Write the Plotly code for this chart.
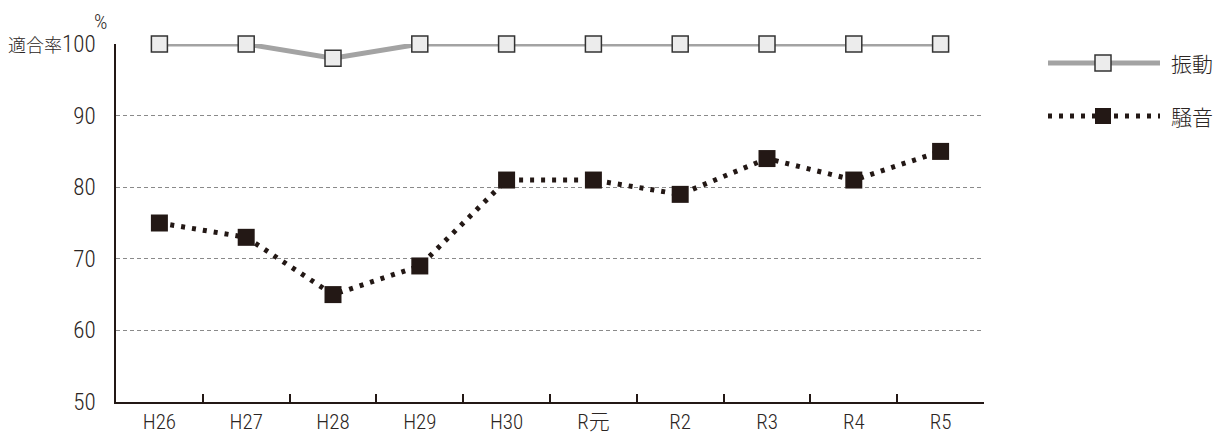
import plotly.graph_objects as go

categories = ["H26", "H27", "H28", "H29", "H30", "R元", "R2", "R3", "R4", "R5"]
vibration = [100, 100, 98, 100, 100, 100, 100, 100, 100, 100]
noise = [75, 73, 65, 69, 81, 81, 79, 84, 81, 85]
series_names = ["振動", "騒音"]
y_ticks = [50, 60, 70, 80, 90, 100]
y_ticktext = ["50", "60", "70", "80", "90", "<span style='font-size:18px'>適合率</span>100"]

FONT = "Roboto Condensed, Noto Sans CJK JP"
CJK = "Noto Sans CJK JP"
W, H = 1225, 434
L, R, T, B = 116, 241, 44, 32
PW, PH = W - L - R, H - T - B
TXT = "#2b2523"

fig = go.Figure()
fig.add_trace(go.Scatter(
    x=categories, y=vibration, name=series_names[0], mode="lines+markers",
    line=dict(color="#a3a3a3", width=5),
    marker=dict(symbol="square", size=16, color="#ececec", line=dict(color="#333333", width=1.5)),
    cliponaxis=False, showlegend=False))
fig.add_trace(go.Scatter(
    x=categories, y=noise, name=series_names[1], mode="lines+markers",
    line=dict(color="#231815", width=5, dash="4px,7px"),
    marker=dict(symbol="square", size=17, color="#231815", line=dict(width=0)),
    cliponaxis=False, showlegend=False))

def px_x(p):
    return (p - L) / PW

def px_y(p):
    return (H - B - p) / PH

shapes = []
ann = []
leg_y = [63, 116]
styles = [dict(color="#a3a3a3", width=5), dict(color="#231815", width=5, dash="4px,7px")]
fills = [("#ececec", "#333333", 1.5), ("#231815", "#231815", 0)]
for i in range(2):
    yy = px_y(leg_y[i])
    shapes.append(dict(type="line", xref="paper", yref="paper", x0=px_x(1048), x1=px_x(1160),
                       y0=yy, y1=yy, line=styles[i]))
    fc, lc, lw = fills[i]
    shapes.append(dict(type="rect", xref="paper", yref="paper", xsizemode="pixel", ysizemode="pixel",
                       xanchor=px_x(1103), yanchor=yy, x0=-8, x1=8, y0=-8, y1=8,
                       fillcolor=fc, line=dict(color=lc, width=lw)))
    ann.append(dict(text=series_names[i], xref="paper", yref="paper", x=px_x(1169), y=yy,
                    xanchor="left", yanchor="middle", showarrow=False,
                    font=dict(family=CJK, size=21, weight=300, color=TXT)))

ann.append(dict(text="%", xref="paper", yref="paper", x=px_x(100), y=px_y(22),
                xanchor="center", yanchor="middle", showarrow=False,
                font=dict(family=FONT, size=21, weight=300, color=TXT)))

fig.update_layout(
    width=W, height=H, margin=dict(l=L, r=R, t=T, b=B, autoexpand=False),
    paper_bgcolor="white", plot_bgcolor="white",
    font=dict(family=FONT, size=23, weight=300, color=TXT),
    shapes=shapes, annotations=ann,
    xaxis=dict(type="category", range=[-0.5, 9.5], tickson="boundaries", ticks="inside",
               ticklen=8, tickcolor="#231815", tickwidth=1.5, showline=True, linecolor="#231815",
               linewidth=1.5, showgrid=False, zeroline=False, ticklabelstandoff=0,
               automargin=False, tickfont=dict(size=21, weight=300)),
    yaxis=dict(range=[50, 100], tickvals=y_ticks, ticktext=y_ticktext, ticks="",
               showline=True, linecolor="#231815", linewidth=1.5, showgrid=True,
               gridcolor="#8a8a8a", griddash="4px,3px", gridwidth=1, zeroline=False,
               ticklabelstandoff=14, automargin=False, tickfont=dict(size=23, weight=300)),
)
fig.write_html("out.html", config={"displayModeBar": False},
               post_script="document.body.style.margin='0';document.body.style.overflow='hidden';")
